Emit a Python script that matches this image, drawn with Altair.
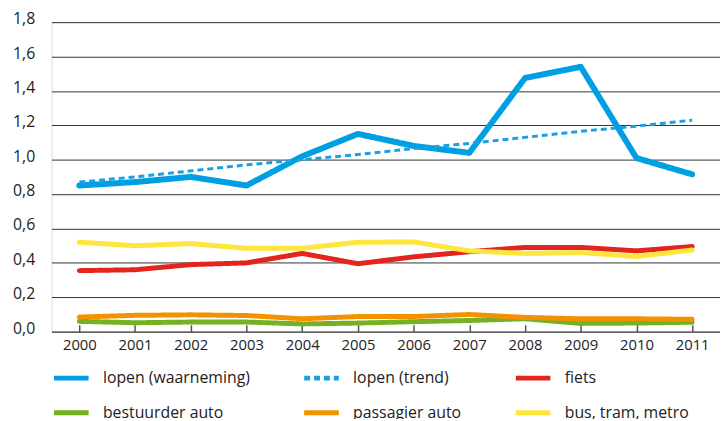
import altair as alt
import pandas as pd

years = [str(y) for y in range(2000, 2012)]

series_names = [
    "lopen (waarneming)",
    "lopen (trend)",
    "fiets",
    "bestuurder auto",
    "passagier auto",
    "bus, tram, metro",
]
lopen_waarneming = [0.85, 0.87, 0.90, 0.85, 1.02, 1.15, 1.08, 1.04, 1.475, 1.54, 1.01, 0.915]
lopen_trend = [0.87, 0.90, 0.935, 0.97, 1.00, 1.03, 1.065, 1.095, 1.13, 1.165, 1.195, 1.23]
fiets = [0.355, 0.36, 0.39, 0.40, 0.455, 0.395, 0.435, 0.465, 0.49, 0.49, 0.47, 0.495]
bestuurder_auto = [0.06, 0.052, 0.056, 0.056, 0.045, 0.05, 0.058, 0.065, 0.075, 0.048, 0.05, 0.055]
passagier_auto = [0.085, 0.095, 0.098, 0.094, 0.075, 0.088, 0.088, 0.10, 0.083, 0.075, 0.075, 0.072]
bus_tram_metro = [0.52, 0.50, 0.512, 0.485, 0.485, 0.52, 0.522, 0.47, 0.455, 0.46, 0.437, 0.475]

series_values = [lopen_waarneming, lopen_trend, fiets, bestuurder_auto, passagier_auto, bus_tram_metro]
colors = ["#009fe3", "#1aa0e2", "#e4251d", "#76b124", "#f39200", "#ffe63c"]
dashes = [[1, 0], [6, 4], [1, 0], [1, 0], [1, 0], [1, 0]]
widths = [6, 3, 5, 5, 5, 5]
y_ticks = [0, 0.2, 0.4, 0.6, 0.8, 1.0, 1.2, 1.4, 1.6, 1.8]

rows = []
for name, vals, w in zip(series_names, series_values, widths):
    for yr, v in zip(years, vals):
        rows.append({"year": yr, "value": v, "series": name, "w": w})
df = pd.DataFrame(rows)

FONT = "Open Sans"

color_enc = alt.Color(
    "series:N",
    scale=alt.Scale(domain=series_names, range=colors),
    title=None,
    legend=alt.Legend(
        orient="none",
        direction="horizontal",
        legendX=0,
        legendY=340,
        columns=3,
        symbolType="stroke",
        symbolSize=1225,
        symbolStrokeWidth=5,
        labelOffset=12,
        labelFontSize=16,
        labelFont=FONT,
        labelColor="#222222",
        rowPadding=5,
        columnPadding=44,
        padding=0,
        labelLimit=300,
    ),
)
dash_enc = alt.StrokeDash(
    "series:N",
    scale=alt.Scale(domain=series_names, range=dashes),
    title=None,
)
width_enc = alt.StrokeWidth("w:Q", scale=None, legend=None)
y_enc = alt.Y(
    "value:Q",
    scale=alt.Scale(domain=[0, 1.8], nice=False, zero=True),
    axis=alt.Axis(
        values=y_ticks,
        labelExpr="replace(format(datum.value, '.1f'), '.', ',')",
        title=None,
        domain=False,
        ticks=False,
        grid=True,
        gridColor="#333333",
        gridWidth=1,
        labelPadding=17,
        labelFontSize=16,
        labelFont=FONT,
        labelColor="#222222",
        labelBaseline="alphabetic",
        labelOffset=1.5,
    ),
)

main_lines = alt.Chart(df).transform_filter(
    alt.datum.series != "lopen (trend)"
).mark_line(strokeCap="round", strokeJoin="round").encode(
    x=alt.X(
        "year:O",
        scale=alt.Scale(padding=0.5),
        axis=alt.Axis(
            orient="bottom",
            title=None,
            labelAngle=0,
            ticks=False,
            domain=True,
            domainColor="#666666",
            domainWidth=1.5,
            labelPadding=6,
            labelFontSize=15,
            labelFont=FONT,
            labelColor="#222222",
            grid=False,
        ),
    ),
    y=y_enc,
    color=color_enc,
    strokeDash=dash_enc,
    strokeWidth=width_enc,
    order=alt.Order("series:N"),
)

trend_line = alt.Chart(df).transform_filter(
    alt.datum.series == "lopen (trend)"
).mark_line(strokeCap="butt").encode(
    x=alt.X(
        "year:O",
        scale=alt.Scale(padding=0.5),
        axis=alt.Axis(
            orient="bottom",
            title=None,
            offset=-7,
            labels=False,
            domain=False,
            ticks=True,
            tickSize=7,
            tickColor="#555555",
            tickWidth=1.5,
            grid=False,
        ),
    ),
    y=y_enc,
    color=color_enc,
    strokeDash=dash_enc,
    strokeWidth=width_enc,
)

chart = alt.layer(main_lines, trend_line).resolve_axis(x="independent").properties(
    width=676,
    height=313,
    autosize=alt.AutoSizeParams(type="none"),
    padding={"left": 44, "top": 12, "right": 0, "bottom": 86},
).configure_view(stroke=None).configure(background="white")

chart.save("out.html", embed_options={"renderer": "svg", "actions": False})
